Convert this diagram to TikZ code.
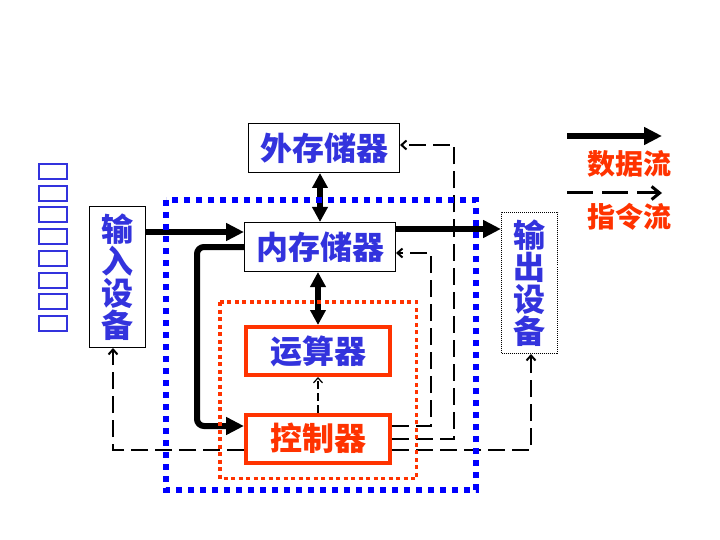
\documentclass[tikz,border=0pt]{standalone}
\usepackage{fontspec}
\setmainfont{Noto Sans CJK SC}
\usetikzlibrary{arrows.meta,positioning,calc}
\definecolor{hzblue}{RGB}{51,51,221}
\definecolor{frblue}{RGB}{0,0,255}
\definecolor{hzred}{RGB}{255,51,0}
\newcommand{\hzfont}{\fontsize{32}{32}\selectfont\bfseries}
\tikzset{
  unit/.style={draw, fill=white, line width=1pt, inner sep=0pt, font=\hzfont, text=hzblue,
    minimum width=151pt, minimum height=49pt},
  vunit/.style={unit, align=center, minimum width=56pt, minimum height=141pt},
  cpu/.style={unit, draw=hzred, line width=4pt, minimum width=144pt, minimum height=48pt},
  tofu/.style={draw=hzblue, line width=2pt, minimum width=28pt, minimum height=15pt, inner sep=0pt},
  dflow/.style={-{Triangle[length=18pt,width=17pt]}, line width=6pt},
  dboth/.style={{Triangle[length=15pt,width=15pt]}-{Triangle[length=15pt,width=15pt]}, line width=6pt},
  cflow/.style={-{Straight Barb[length=5pt,width=9pt]}, line width=2pt, dash pattern=on 17pt off 7pt},
  legtxt/.style={font=\fontsize{28}{29}\selectfont\bfseries, text=hzred},
}
\begin{document}
\begin{tikzpicture}[x=1pt,y=-1pt]
\useasboundingbox (0,0) rectangle (720,540);
% title, printed as empty boxes
\foreach \k in {0,...,7}
  \node[tofu] (t\k) at (53,171.5+21.7*\k) {};
% units
\node[unit] (ext) at (324,148) {外存储器};
\node[unit] (mem) at (320,247) {内存储器};
\node[cpu] (alu) at (318,351) {运算器};
\node[cpu, text=hzred] (ctl) at (318,438.5) {控制器};
\node[vunit] (in) at (117.5,277) {输\\入\\设\\备};
\node[vunit, densely dotted] (out) at (529.5,283) {输\\出\\设\\备};
% data flow
\coordinate (inA) at ([yshift=15pt]mem.west);
\draw[dflow] (in.east |- inA) -- (inA);
\coordinate (outA) at ([yshift=18pt]mem.east);
\draw[dflow] (outA) -- (out.west |- outA);
\draw[dflow, rounded corners=7pt] (mem.west) -- ++(-47,0) |- ([yshift=12.5pt]ctl.west);
\draw[dboth] (ext.south -| mem.north) -- (mem.north);
\draw[dboth] (mem.south -| alu.north) -- (alu.north);
% control flow
\draw[cflow] ([yshift=12.5pt]ctl.east) -- ++(39,0) |- ([yshift=-6pt]mem.east);
\draw[cflow] (ctl.east) -- ++(62,0) |- ([yshift=3pt]ext.east);
\draw[cflow] ([yshift=-11.5pt]ctl.west) -| ([xshift=-4.5pt]in.south);
\draw[cflow] ([yshift=-11.5pt]ctl.east) -| ([xshift=1.5pt]out.south);
\draw[cflow, line width=1.2pt, dash pattern=on 8pt off 4pt] (ctl.north) -- (alu.south);
% frames
\draw[frblue, line width=5.5pt, dash pattern=on 6pt off 6pt] (166,200) rectangle (476,490);
\draw[hzred, line width=3.5pt, dash pattern=on 4pt off 3.5pt] (220,302) rectangle (416.5,478.5);
% legend
\coordinate (dA) at (567,136);
\coordinate (dB) at (662,136);
\draw[dflow] (dA) -- (dB);
\node[legtxt] (dtxt) at (629,164) {数据流};
\coordinate (cA) at (567,193);
\coordinate (cB) at (662,193);
\draw[cflow, line width=3pt, dash pattern=on 26pt off 9pt, -{Straight Barb[length=8pt,width=13pt]}] (cA) -- (cB);
\node[legtxt] (ctxt) at (629,217) {指令流};
\end{tikzpicture}
\end{document}
